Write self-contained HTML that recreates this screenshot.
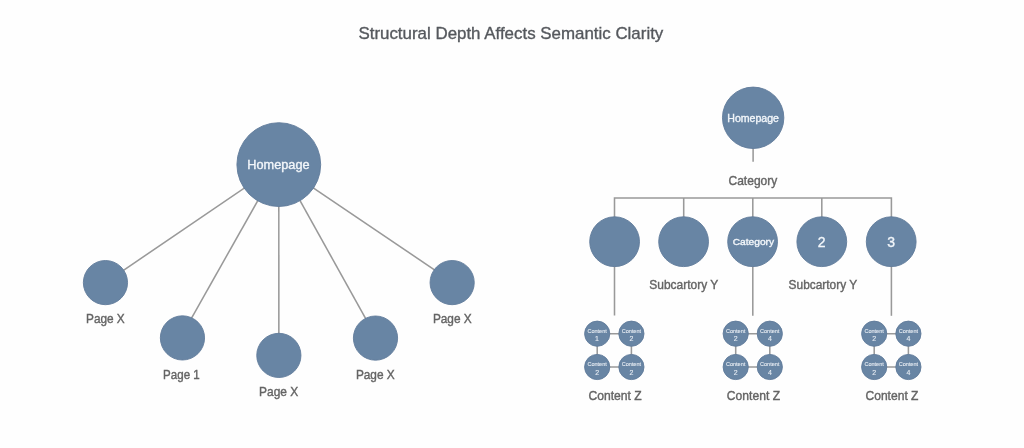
<!DOCTYPE html>
<html><head><meta charset="utf-8">
<style>
html,body{margin:0;padding:0;background:#fefefe;}
body{width:1024px;height:448px;overflow:hidden;}
svg{display:block;will-change:transform;font-family:"Liberation Sans",sans-serif;}
.ln{stroke:#999999;stroke-width:1.55;fill:none;}
.c{fill:#6885a4;stroke:#617c9b;stroke-width:0.9;}
.sm{fill:#e9eef4;stroke:#e9eef4;stroke-width:0.1;}
.ttl{fill:#55585d;stroke:#55585d;stroke-width:0.35;}
.lbl{fill:#646464;stroke:#646464;stroke-width:0.4;}
.w{fill:#f2f6fa;stroke:#f2f6fa;stroke-width:0.35;}
</style></head>
<body>
<svg width="1024" height="448" viewBox="0 0 1024 448">
<g class="ln">
<line x1="278.8" y1="164.6" x2="105.45" y2="282.6"/>
<line x1="278.1" y1="164.6" x2="180.4" y2="337.9"/>
<line x1="278.8" y1="164.6" x2="278.85" y2="355.4"/>
<line x1="280.0" y1="164.6" x2="376.4" y2="337.9"/>
<line x1="278.8" y1="164.6" x2="452.15" y2="281.8"/>
<line x1="753.1" y1="117.8" x2="753.1" y2="161.7"/>
<line x1="683.7" y1="198" x2="683.7" y2="230"/>
<line x1="752.8" y1="198" x2="752.8" y2="315.8"/>
<line x1="821.8" y1="198" x2="821.8" y2="230"/>
<line x1="614.5" y1="241.7" x2="614.5" y2="315.5"/>
<line x1="891.4" y1="241.7" x2="891.4" y2="315.8"/>
<line x1="597.2" y1="333.7" x2="631.4" y2="333.7"/>
<line x1="597.2" y1="367.0" x2="631.4" y2="367.0"/>
<line x1="597.2" y1="333.7" x2="597.2" y2="367.0"/>
<line x1="631.4" y1="333.7" x2="631.4" y2="367.0"/>
<line x1="735.7" y1="333.7" x2="769.8" y2="333.7"/>
<line x1="735.7" y1="367.0" x2="769.8" y2="367.0"/>
<line x1="735.7" y1="333.7" x2="735.7" y2="367.0"/>
<line x1="769.8" y1="333.7" x2="769.8" y2="367.0"/>
<line x1="874.2" y1="333.7" x2="908.4" y2="333.7"/>
<line x1="874.2" y1="367.0" x2="908.4" y2="367.0"/>
<line x1="874.2" y1="333.7" x2="874.2" y2="367.0"/>
<line x1="908.4" y1="333.7" x2="908.4" y2="367.0"/>
<polyline points="614.5,250 614.5,198 891.4,198 891.4,250"/>
</g>
<circle class="c" cx="278.8" cy="164.6" r="41.90"/>
<circle class="c" cx="105.45" cy="282.6" r="22.10"/>
<circle class="c" cx="182.45" cy="337.9" r="22.10"/>
<circle class="c" cx="278.85" cy="355.4" r="22.10"/>
<circle class="c" cx="375.5" cy="338.1" r="22.10"/>
<circle class="c" cx="452.15" cy="282.6" r="22.10"/>
<circle class="c" cx="753.15" cy="117.8" r="30.70"/>
<circle class="c" cx="614.6" cy="241.7" r="24.90"/>
<circle class="c" cx="683.6" cy="241.7" r="24.90"/>
<circle class="c" cx="752.6" cy="241.7" r="24.90"/>
<circle class="c" cx="821.8" cy="241.7" r="24.90"/>
<circle class="c" cx="891.2" cy="241.7" r="24.90"/>
<circle class="c" cx="597.2" cy="333.7" r="12.60"/>
<circle class="c" cx="631.4" cy="333.7" r="12.60"/>
<circle class="c" cx="597.2" cy="367.0" r="12.60"/>
<circle class="c" cx="631.4" cy="367.0" r="12.60"/>
<circle class="c" cx="735.7" cy="333.7" r="12.60"/>
<circle class="c" cx="769.8" cy="333.7" r="12.60"/>
<circle class="c" cx="735.7" cy="367.0" r="12.60"/>
<circle class="c" cx="769.8" cy="367.0" r="12.60"/>
<circle class="c" cx="874.2" cy="333.7" r="12.60"/>
<circle class="c" cx="908.4" cy="333.7" r="12.60"/>
<circle class="c" cx="874.2" cy="367.0" r="12.60"/>
<circle class="c" cx="908.4" cy="367.0" r="12.60"/>
<text class="ttl" x="358.45" y="38.60" font-size="17.00" textLength="304.85" lengthAdjust="spacingAndGlyphs">Structural Depth Affects Semantic Clarity</text>
<text class="lbl" x="86.00" y="323.10" font-size="13.00" textLength="38.75" lengthAdjust="spacingAndGlyphs">Page X</text>
<text class="lbl" x="163.10" y="378.70" font-size="13.00" textLength="36.60" lengthAdjust="spacingAndGlyphs">Page 1</text>
<text class="lbl" x="259.10" y="396.20" font-size="13.00" textLength="39.15" lengthAdjust="spacingAndGlyphs">Page X</text>
<text class="lbl" x="355.90" y="378.60" font-size="13.00" textLength="38.85" lengthAdjust="spacingAndGlyphs">Page X</text>
<text class="lbl" x="432.90" y="323.10" font-size="13.00" textLength="38.85" lengthAdjust="spacingAndGlyphs">Page X</text>
<text class="lbl" x="728.50" y="184.90" font-size="13.00" textLength="48.80" lengthAdjust="spacingAndGlyphs">Category</text>
<text class="lbl" x="649.30" y="288.80" font-size="13.00" textLength="69.05" lengthAdjust="spacingAndGlyphs">Subcartory Y</text>
<text class="lbl" x="788.60" y="288.80" font-size="13.00" textLength="68.55" lengthAdjust="spacingAndGlyphs">Subcartory Y</text>
<text class="lbl" x="588.45" y="399.80" font-size="13.00" textLength="53.30" lengthAdjust="spacingAndGlyphs">Content Z</text>
<text class="lbl" x="726.85" y="399.80" font-size="13.00" textLength="53.20" lengthAdjust="spacingAndGlyphs">Content Z</text>
<text class="lbl" x="865.50" y="399.80" font-size="13.00" textLength="52.95" lengthAdjust="spacingAndGlyphs">Content Z</text>
<text class="w" x="247.30" y="168.80" font-size="12.30" textLength="62.30" lengthAdjust="spacingAndGlyphs">Homepage</text>
<text class="w" x="727.25" y="121.50" font-size="10.10" textLength="51.75" lengthAdjust="spacingAndGlyphs">Homepage</text>
<text class="w" x="732.70" y="245.20" font-size="9.60" textLength="41.40" lengthAdjust="spacingAndGlyphs">Category</text>
<text class="w" x="817.87" y="247.10" font-size="14.00">2</text>
<text class="w" x="887.17" y="247.10" font-size="14.00">3</text>
<text class="sm" x="587.45" y="332.90" font-size="6.00" textLength="19.35" lengthAdjust="spacingAndGlyphs">Content</text>
<text class="sm" x="595.10" y="341.20" font-size="7.00">1</text>
<text class="sm" x="621.65" y="332.90" font-size="6.00" textLength="19.35" lengthAdjust="spacingAndGlyphs">Content</text>
<text class="sm" x="629.42" y="341.20" font-size="7.00">2</text>
<text class="sm" x="587.45" y="366.20" font-size="6.00" textLength="19.35" lengthAdjust="spacingAndGlyphs">Content</text>
<text class="sm" x="595.23" y="374.50" font-size="7.00">2</text>
<text class="sm" x="621.65" y="366.20" font-size="6.00" textLength="19.35" lengthAdjust="spacingAndGlyphs">Content</text>
<text class="sm" x="629.42" y="374.50" font-size="7.00">2</text>
<text class="sm" x="725.95" y="332.90" font-size="6.00" textLength="19.35" lengthAdjust="spacingAndGlyphs">Content</text>
<text class="sm" x="733.73" y="341.20" font-size="7.00">2</text>
<text class="sm" x="760.05" y="332.90" font-size="6.00" textLength="19.35" lengthAdjust="spacingAndGlyphs">Content</text>
<text class="sm" x="767.95" y="341.20" font-size="7.00">4</text>
<text class="sm" x="725.95" y="366.20" font-size="6.00" textLength="19.35" lengthAdjust="spacingAndGlyphs">Content</text>
<text class="sm" x="733.73" y="374.50" font-size="7.00">2</text>
<text class="sm" x="760.05" y="366.20" font-size="6.00" textLength="19.35" lengthAdjust="spacingAndGlyphs">Content</text>
<text class="sm" x="767.95" y="374.50" font-size="7.00">4</text>
<text class="sm" x="864.45" y="332.90" font-size="6.00" textLength="19.35" lengthAdjust="spacingAndGlyphs">Content</text>
<text class="sm" x="872.23" y="341.20" font-size="7.00">2</text>
<text class="sm" x="898.65" y="332.90" font-size="6.00" textLength="19.35" lengthAdjust="spacingAndGlyphs">Content</text>
<text class="sm" x="906.42" y="341.20" font-size="7.00">4</text>
<text class="sm" x="864.45" y="366.20" font-size="6.00" textLength="19.35" lengthAdjust="spacingAndGlyphs">Content</text>
<text class="sm" x="872.23" y="374.50" font-size="7.00">2</text>
<text class="sm" x="898.65" y="366.20" font-size="6.00" textLength="19.35" lengthAdjust="spacingAndGlyphs">Content</text>
<text class="sm" x="906.42" y="374.50" font-size="7.00">4</text>
</svg>
</body></html>
